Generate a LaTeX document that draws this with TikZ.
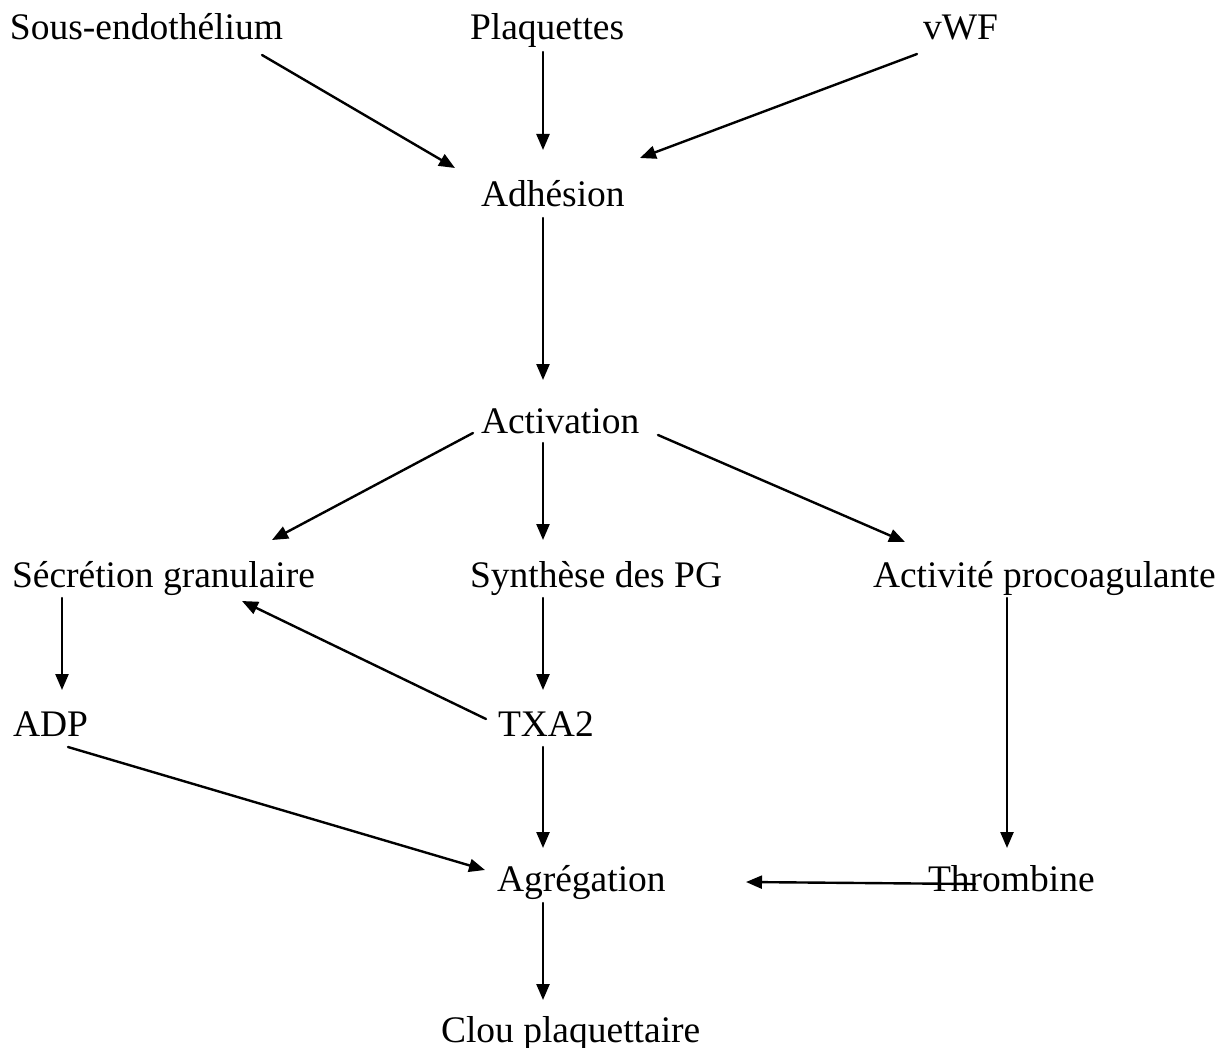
\documentclass[tikz,border=0pt]{standalone}
\usepackage{fontspec}
\setmainfont{Liberation Serif}
\usetikzlibrary{arrows.meta}
\begin{document}
\begin{tikzpicture}[
    x=0.5pt, y=-0.5pt,
    line cap=round,
    every node/.style={anchor=base west, inner sep=0pt, outer sep=0pt,
      font=\fontsize{18.75}{22}\selectfont},
    arr/.style={-{Triangle[length=8pt,width=6.5pt]}, line width=1.2pt}
]
  \useasboundingbox (0,0) rectangle (1225,1048);
  % stages
  \node (sous)  at (10,40)    {Sous-endothélium};
  \node (plaq)  at (470,40)   {Plaquettes};
  \node (vwf)   at (923,40)   {vWF};
  \node (adh)   at (481,206)  {Adhésion};
  \node (act)   at (481,433)  {Activation};
  \node (secr)  at (12,587)   {Sécrétion granulaire};
  \node (synth) at (470,587)  {Synthèse des PG};
  \node (proco) at (873,587)  {Activité procoagulante};
  \node (adp)   at (13,736)   {ADP};
  \node (txa)   at (498,736)  {TXA2};
  \node (agr)   at (497,891)  {Agrégation};
  \node (thr)   at (928,891)  {Thrombine};
  \node (clou)  at (441,1042) {Clou plaquettaire};
  % arrows
  \draw[arr] ([shift={(252,15)}]sous.base west) -- ([shift={(-26,-38)}]adh.base west);
  \draw[arr] ([shift={(73,12)}]plaq.base west) -- ([shift={(62,-56)}]adh.base west);
  \draw[arr] ([shift={(-6,14)}]vwf.base west) -- ([shift={(159,-48)}]adh.base west);
  \draw[arr] ([shift={(62,12)}]adh.base west) -- ([shift={(62,-53)}]act.base west);
  \draw[arr] ([shift={(-8,0)}]act.base west) -- ([shift={(260,-47)}]secr.base west);
  \draw[arr] ([shift={(62,10)}]act.base west) -- ([shift={(73,-47)}]synth.base west);
  \draw[arr] ([shift={(177,2)}]act.base west) -- ([shift={(32,-45)}]proco.base west);
  \draw[arr] ([shift={(50,11)}]secr.base west) -- ([shift={(49,-46)}]adp.base west);
  \draw[arr] ([shift={(73,11)}]synth.base west) -- ([shift={(45,-46)}]txa.base west);
  \draw[arr] ([shift={(-12,-17)}]txa.base west) -- ([shift={(230,14)}]secr.base west);
  \draw[arr] ([shift={(55,11)}]adp.base west) -- ([shift={(-12,-21)}]agr.base west);
  \draw[arr] ([shift={(45,11)}]txa.base west) -- ([shift={(46,-43)}]agr.base west);
  \draw[arr] ([shift={(134,11)}]proco.base west) -- ([shift={(79,-43)}]thr.base west);
  \draw[arr] ([shift={(47,-7)}]thr.base west) -- ([shift={(249,-9)}]agr.base west);
  \draw[arr] ([shift={(46,12)}]agr.base west) -- ([shift={(102,-42)}]clou.base west);
\end{tikzpicture}
\end{document}
